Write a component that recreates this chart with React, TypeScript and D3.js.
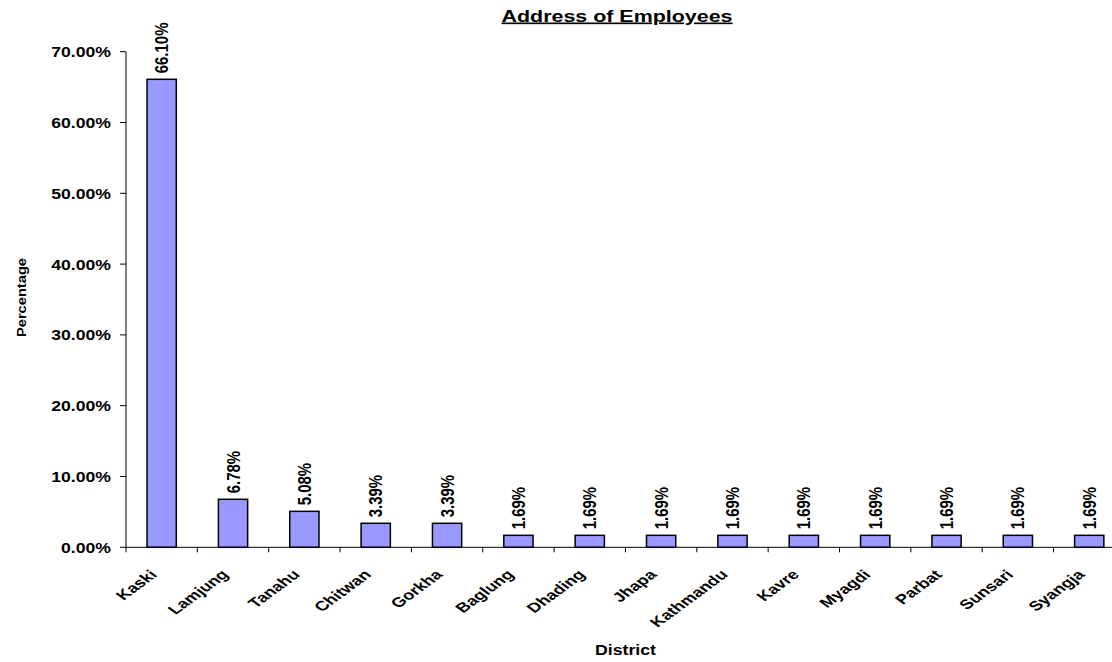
import React from "react";
import * as d3 from "d3";

const districts = ["Kaski","Lamjung","Tanahu","Chitwan","Gorkha","Baglung","Dhading","Jhapa","Kathmandu","Kavre","Myagdi","Parbat","Sunsari","Syangja"];
const percentages = [66.10, 6.78, 5.08, 3.39, 3.39, 1.69, 1.69, 1.69, 1.69, 1.69, 1.69, 1.69, 1.69, 1.69];
const yTicks = [0, 10, 20, 30, 40, 50, 60, 70];
const chartTitle = "Address of Employees";
const xTitle = "District";
const yTitle = "Percentage";

const W = 1112, H = 662;
const left = 126, bottom = 547.3, top = 51.7;
const step = 71.35;
const sx = 1.26;

export default function App() {
  const x = d3.scaleBand<string>().domain(districts).range([left, left + step * districts.length]).padding(0);
  const y = d3.scaleLinear().domain([0, 70]).range([bottom, top]);
  const bw = x.bandwidth() * 0.41;
  const font = "'Liberation Sans', Arial, sans-serif";
  const fmt = (v: number) => v.toFixed(2) + "%";
  const boundaries = districts.map((d) => x(d)!).concat([x.range()[1]]);
  return (
    <svg width={W} height={H} style={{ position: "absolute", left: 0, top: 0, background: "#fff" }} fontFamily={font}>
      <text x={617} y={21.5} textAnchor="middle" fontSize={16.5} fontWeight="bold" textLength={231} lengthAdjust="spacingAndGlyphs" textDecoration="underline">{chartTitle}</text>
      {/* bars */}
      {districts.map((d, i) => {
        const cx = x(d)! + x.bandwidth() / 2;
        return (
          <g key={d}>
            <rect x={cx - bw / 2} y={y(percentages[i])} width={bw} height={bottom - y(percentages[i])} fill="#9999FF" stroke="#000" strokeWidth={1.5} />
            <text transform={`translate(${cx + 6.5},${y(percentages[i]) - 6}) scale(${sx},1) rotate(-90)`} fontSize={15} fontWeight="bold" textAnchor="start">{fmt(percentages[i])}</text>
            <text transform={`translate(${cx - 3.5},${575.5}) scale(1.36,1) rotate(-45)`} fontSize={13.5} fontWeight="bold" textAnchor="end">{d}</text>
          </g>
        );
      })}
      {/* y axis */}
      <line x1={left} x2={left} y1={top} y2={bottom} stroke="#000" strokeWidth={1} />
      {yTicks.map((t) => (
        <g key={t}>
          <line x1={left - 6} x2={left} y1={y(t)} y2={y(t)} stroke="#000" />
          <g transform={`translate(${left - 15},${y(t) + 5.5}) scale(${sx},1)`}>
            <text fontSize={14} fontWeight="bold" textAnchor="end">{fmt(t)}</text>
          </g>
        </g>
      ))}
      {/* x axis */}
      <line x1={left} x2={x.range()[1]} y1={bottom} y2={bottom} stroke="#000" strokeWidth={1} />
      {boundaries.map((b, i) => (
        <line key={i} x1={b} x2={b} y1={bottom} y2={bottom + 5} stroke="#000" />
      ))}
      <text x={625.5} y={655} textAnchor="middle" fontSize={14} fontWeight="bold" textLength={61} lengthAdjust="spacingAndGlyphs">{xTitle}</text>
      <text transform={`translate(25.5,297.5) rotate(-90)`} textAnchor="middle" fontSize={12} fontWeight="bold" textLength={79} lengthAdjust="spacingAndGlyphs">{yTitle}</text>
    </svg>
  );
}
